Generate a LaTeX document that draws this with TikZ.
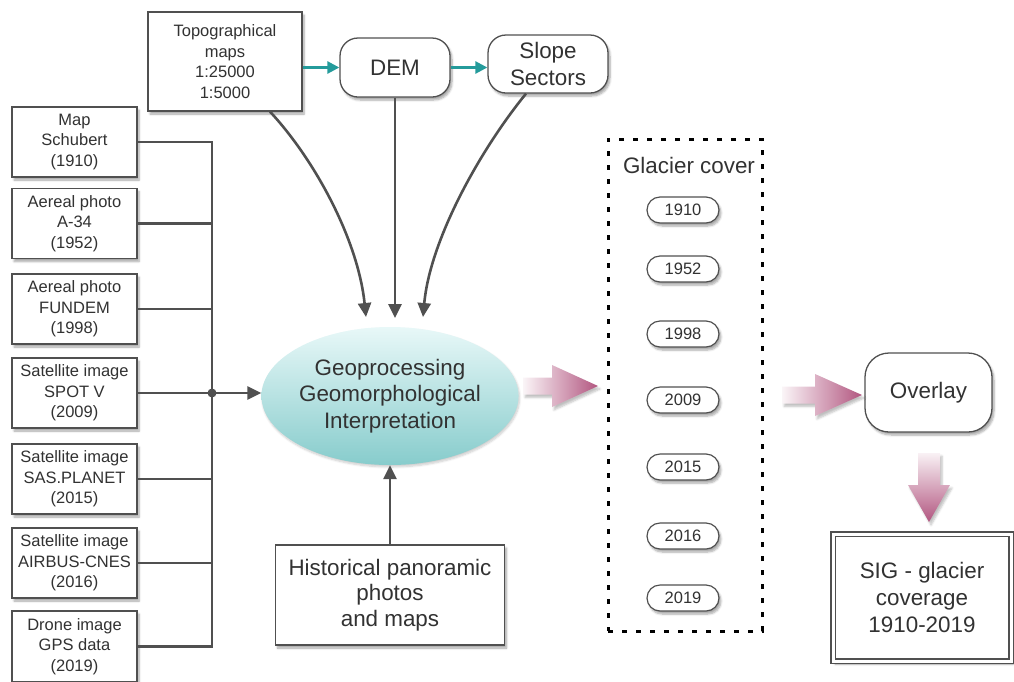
\documentclass[tikz,border=0pt]{standalone}
\usepackage{fontspec}
\setmainfont{Liberation Sans}
\usetikzlibrary{shapes.geometric,shadows.blur,calc,arrows.meta}
\definecolor{txt}{RGB}{50,50,50}
\definecolor{ln}{RGB}{80,80,80}
\definecolor{teal2}{RGB}{36,155,155}
\definecolor{pinkarr}{RGB}{178,86,128}
\definecolor{geotop}{RGB}{232,248,248}
\definecolor{geobot}{RGB}{135,204,204}
\begin{document}
\begin{tikzpicture}[x=1pt,y=-1pt,
  every node/.style={text=txt},
  sfont/.style={font=\fontsize{16.5}{20.5}\selectfont},
  lfont/.style={font=\fontsize{22.4}{26.5}\selectfont},
  shad/.style={blur shadow={shadow xshift=2pt,shadow yshift=-3pt,shadow blur steps=6,shadow opacity=35}},
  srcbox/.style={draw=ln,line width=1.3pt,fill=white,shad,minimum width=125pt,minimum height=70pt,inner sep=0pt,align=center,sfont},
  rbox/.style={draw=ln,line width=1.3pt,fill=white,shad,rounded corners=18pt,inner sep=0pt,align=center,lfont},
  pill/.style={draw=ln,line width=1.2pt,fill=white,shad,rounded corners=13pt,minimum width=72pt,minimum height=26pt,inner sep=0pt,sfont},
  conn/.style={draw=ln,line width=2.6pt},
  garrow/.style={conn,-{Triangle[length=14pt,width=13pt]}},
  tarrow/.style={draw=teal2,line width=2.6pt,-{Triangle[length=12pt,width=12pt]}},
  parrow/.style={blur shadow={shadow xshift=2pt,shadow yshift=-3pt,shadow blur steps=5,shadow opacity=25}}
]
\useasboundingbox (0,0) rectangle (1014,681);

% top row
\node[srcbox,minimum width=154pt,minimum height=99pt] (topo) at (225,61.5) {Topographical\\maps\\1:25000\\1:5000};
\node[rbox,minimum width=110pt,minimum height=59pt] (dem) at (395,67.5) {DEM};
\node[rbox,minimum width=120pt,minimum height=58pt] (slope) at (548,64) {Slope\\Sectors};

% left sources
\node[srcbox] (b1) at (74.5,142) {Map\\Schubert\\(1910)};
\node[srcbox] (b2) at (74.5,223.5) {Aereal photo\\A-34\\(1952)};
\node[srcbox] (b3) at (74.5,309) {Aereal photo\\FUNDEM\\(1998)};
\node[srcbox] (b4) at (74.5,393) {Satellite image\\SPOT V\\(2009)};
\node[srcbox] (b5) at (74.5,479) {Satellite image\\SAS.PLANET\\(2015)};
\node[srcbox] (b6) at (74.5,563) {Satellite image\\AIRBUS-CNES\\(2016)};
\node[srcbox,minimum height=71pt] (b7) at (74.5,646.5) {Drone image\\GPS data\\(2019)};

% central ellipse
\node[ellipse,draw=none,top color=geotop,bottom color=geobot,minimum width=242pt,minimum height=138pt,inner sep=0pt,align=center,lfont,
  blur shadow={shadow xshift=1pt,shadow yshift=-2pt,shadow blur steps=6,shadow opacity=20}] (geo) at (390,396)
  {Geoprocessing\\Geomorphological\\Interpretation};

% historical box
\node[srcbox,minimum width=229pt,minimum height=100pt,lfont,font=\fontsize{22.4}{25.5}\selectfont] (hist) at (390,595) {Historical panoramic\\photos\\and maps};

% glacier cover group
\node[draw=black,line width=3pt,dash pattern=on 5pt off 9pt,minimum width=154pt,minimum height=492pt,inner sep=0pt] (gcbox) at (685,385) {};
\node[lfont,inner sep=0pt] (gclabel) at (689,165) {Glacier cover};
\node[pill] (y1) at (683,210) {1910};
\node[pill] (y2) at (683,269) {1952};
\node[pill] (y3) at (683,334) {1998};
\node[pill] (y4) at (683,400) {2009};
\node[pill] (y5) at (683,467) {2015};
\node[pill] (y6) at (683,536) {2016};
\node[pill] (y7) at (683,598) {2019};

% overlay and result
\node[rbox,rounded corners=24pt,minimum width=127pt,minimum height=79pt] (ov) at (928.5,392.5) {Overlay};
\node[srcbox,double=white,double distance=3pt,line width=1.3pt,minimum width=178pt,minimum height=127pt,lfont,font=\fontsize{22.4}{27}\selectfont] (sig) at (922,597.5) {SIG - glacier\\coverage\\1910-2019};

% teal arrows
\draw[tarrow] (topo.east |- dem.west) -- (dem.west);
\draw[tarrow] (dem.east) -- (dem.east -| slope.west);

% arrows into ellipse from top
\coordinate (t1) at (366,317);
\coordinate (t2) at (395,318);
\coordinate (t3) at (423,317);
\draw[garrow] ($(topo.south)+(45,0)$) .. controls (315,160) and (358,240) .. (t1);
\draw[garrow] (dem.south) -- (t2);
\draw[garrow] ($(slope.south)+(-22,0)$) .. controls (480,150) and (430,240) .. (t3);

% bus from the left sources
\coordinate (bj) at (212,393);
\draw[conn] (b1.east) -| (bj) |- (b7.east);
\draw[conn] (b2.east) -- (b2.east -| bj);
\draw[conn] (b3.east) -- (b3.east -| bj);
\draw[conn] (b4.east) -- (bj);
\draw[conn] (b5.east) -- (b5.east -| bj);
\draw[conn] (b6.east) -- (b6.east -| bj);
\fill[ln] (bj) circle (4.5pt);
\draw[garrow] (bj) -- (bj -| geo.west);

% from historical box
\draw[garrow] (hist.north) -- (geo.south);

% pink block arrows
\coordinate (pa1) at (560.5,386);
\begin{scope}[shift={(pa1)}]
\shade[parrow,left color=pinkarr!6,right color=pinkarr]
  (-37.5,-8.5) -- (-8.5,-8.5) -- (-8.5,-21) -- (37.5,0) -- (-8.5,21) -- (-8.5,8.5) -- (-37.5,8.5) -- cycle;
\end{scope}
\coordinate (pa2) at (822,395);
\begin{scope}[shift={(pa2)}]
\shade[parrow,left color=pinkarr!6,right color=pinkarr]
  (-40,-8.5) -- (-7,-8.5) -- (-7,-21) -- (40,0) -- (-7,21) -- (-7,8.5) -- (-40,8.5) -- cycle;
\end{scope}
\coordinate (pa3) at (929,487.5);
\begin{scope}[shift={(pa3)}]
\shade[parrow,top color=pinkarr!8,bottom color=pinkarr]
  (-11,-34.5) -- (11,-34.5) -- (11,-2.5) -- (21,-2.5) -- (0,34.5) -- (-21,-2.5) -- (-11,-2.5) -- cycle;
\end{scope}
\end{tikzpicture}
\end{document}
